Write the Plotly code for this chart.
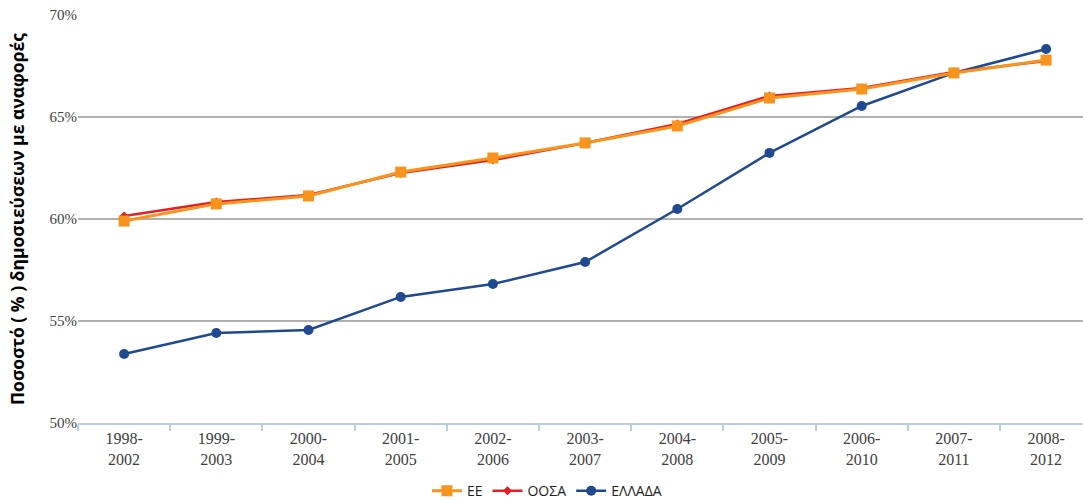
import plotly.graph_objects as go

categories = ["1998-<br>2002", "1999-<br>2003", "2000-<br>2004", "2001-<br>2005", "2002-<br>2006",
              "2003-<br>2007", "2004-<br>2008", "2005-<br>2009", "2006-<br>2010", "2007-<br>2011",
              "2008-<br>2012"]
ee = [59.90, 60.74, 61.13, 62.30, 62.99, 63.73, 64.56, 65.93, 66.37, 67.16, 67.79]
oosa = [60.15, 60.83, 61.18, 62.25, 62.89, 63.73, 64.66, 66.03, 66.42, 67.21, 67.75]
ellada = [53.38, 54.41, 54.56, 56.18, 56.81, 57.89, 60.49, 63.24, 65.54, 67.16, 68.33]
y_ticks = [50, 55, 60, 65, 70]
y_tick_labels = ["50%", "55%", "60%", "65%", "70%"]

fig = go.Figure()
fig.add_trace(go.Scatter(x=categories, y=ellada, name="ΕΛΛΑΔΑ", mode="lines+markers",
                         line=dict(color="#1F4A8F", width=2.5),
                         marker=dict(symbol="circle", size=10, color="#1F4A8F"), legendrank=3))
fig.add_trace(go.Scatter(x=categories, y=oosa, name="ΟΟΣΑ", mode="lines+markers",
                         line=dict(color="#E41E26", width=2.5),
                         marker=dict(symbol="diamond", size=7, color="#E41E26"), legendrank=2))
fig.add_trace(go.Scatter(x=categories, y=ee, name="ΕΕ", mode="lines+markers",
                         line=dict(color="#F7941D", width=3),
                         marker=dict(symbol="square", size=11, color="#F7941D"), legendrank=1))

fig.update_layout(
    width=1083, height=500,
    margin=dict(l=78, r=0, t=15, b=77, autoexpand=False),
    plot_bgcolor="white", paper_bgcolor="white",
    showlegend=True,
    legend=dict(orientation="h", xref="container", x=0.505, xanchor="center",
                yref="paper", y=-0.167, yanchor="middle",
                font=dict(family="Open Sans, sans-serif", size=14, color="#222222"),
                itemwidth=30, traceorder="normal"),
    xaxis=dict(type="category", range=[-0.5, 10.4], showgrid=False, automargin=False,
               showline=True, linecolor="#B9CDE5", linewidth=2,
               ticks="outside", tickson="boundaries", ticklen=6, tickcolor="#B9CDE5", tickwidth=2,
               tickfont=dict(family="Liberation Serif, serif", size=16, color="#404040")),
    yaxis=dict(range=[50, 70], tickvals=y_ticks, ticktext=y_tick_labels, automargin=False,
               showgrid=True, gridcolor="#B0B0B0", gridwidth=1.5, zeroline=False,
               showline=False, ticks="",
               tickfont=dict(family="Liberation Serif, serif", size=15, color="#404040")),
    annotations=[dict(text="<b>Ποσοστό ( % ) δημοσιεύσεων με αναφορές</b>",
                      xref="paper", yref="paper", x=-0.0607, y=0.5,
                      xanchor="center", yanchor="middle", textangle=-90, showarrow=False,
                      font=dict(family="Open Sans, sans-serif", size=17.5, color="#000000"))],
)

fig.write_html("out.html", config={"displayModeBar": False},
               post_script="document.body.style.margin='0';document.body.style.overflow='hidden';")
